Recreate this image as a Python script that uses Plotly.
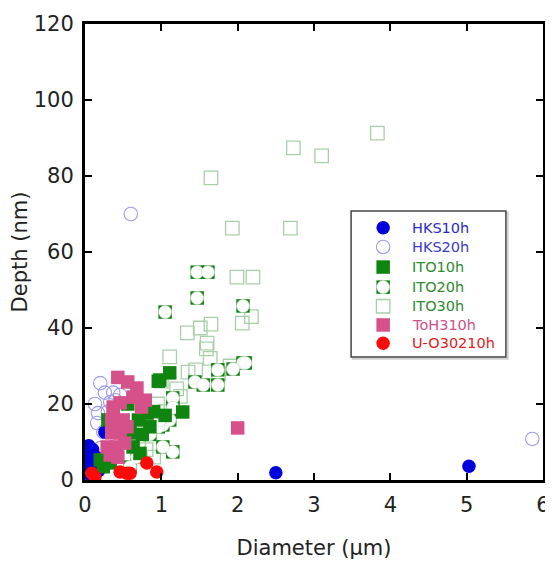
import plotly.graph_objects as go

# ---------------- data ----------------
hks10_x = [2.5, 5.03, 0.05, 0.1, 0.04, 0.12, 0.03, 0.15, 0.08, 0.02, 0.18, 0.26]
hks10_y = [1.9, 3.6, 9.0, 8.0, 5.0, 4.0, 2.0, 6.0, 1.0, 7.0, 2.5, 12.6]

hks20_x = [0.6, 5.86, 0.2, 0.26, 0.37, 0.46, 0.17, 0.16, 0.24, 0.33, 0.13, 0.2, 0.3, 0.4]
hks20_y = [70.0, 10.8, 25.5, 23.0, 23.0, 22.4, 17.6, 15.0, 12.6, 20.5, 20.0, 8.4, 18.0, 21.0]

ito10_x = [1.11, 0.98, 1.28, 0.81, 0.85, 0.96, 0.7, 0.63, 0.72, 0.56, 0.2, 0.24, 0.33, 0.59, 0.3, 0.9, 0.75, 1.05]
ito10_y = [28.2, 26.3, 17.9, 17.6, 14.0, 26.0, 15.8, 8.7, 7.0, 20.0, 5.3, 3.5, 4.5, 12.4, 15.8, 18.0, 12.0, 17.0]

ito20_x = [1.47, 1.61, 1.47, 1.05, 2.07, 2.07, 1.74, 1.94, 2.1, 1.44, 1.55, 1.74, 1.15, 1.15,
           1.02, 1.11, 0.96, 1.15, 1.05, 0.68, 0.59, 0.98, 1.02, 0.85]
ito20_y = [54.7, 54.7, 47.9, 44.2, 45.8, 30.8, 29.0, 29.2, 30.8, 25.8, 25.0, 25.0, 21.6, 19.0,
           14.5, 15.8, 14.0, 7.4, 16.6, 6.0, 3.4, 15.8, 8.7, 12.0]

ito30_x = [3.83, 2.73, 3.1, 1.65, 1.93, 2.69, 1.99, 2.2, 1.34, 1.51, 1.65, 2.06, 2.18, 1.59,
           1.64, 1.11, 1.35, 1.0, 1.2, 1.45, 1.75, 0.95, 1.05, 0.7, 0.8, 1.25, 0.55, 0.9, 1.9, 1.6]
ito30_y = [91.3, 87.4, 85.3, 79.5, 66.3, 66.3, 53.4, 53.4, 38.7, 40.0, 41.0, 41.3, 43.0, 34.5,
           32.0, 32.4, 28.4, 26.0, 24.0, 29.0, 28.0, 20.0, 18.0, 10.0, 8.0, 22.0, 12.0, 6.0, 30.0, 36.0]

toh_x = [2.0, 0.43, 0.56, 0.68, 0.63, 0.79, 0.74, 0.37, 0.46, 0.35, 0.5, 0.35, 0.46, 0.29, 0.42,
         0.52, 0.43, 0.33, 0.55, 0.37]
toh_y = [13.7, 27.0, 25.8, 24.2, 21.8, 21.0, 19.2, 19.2, 20.3, 15.8, 15.8, 12.4, 12.4, 8.7, 8.7,
         9.7, 6.0, 6.6, 14.0, 17.6]

uo_x = [0.13, 0.46, 0.55, 0.59, 0.81, 0.94, 0.09]
uo_y = [0.8, 2.1, 1.8, 1.8, 4.5, 2.1, 1.8]

legend_names = ["HKS10h", "HKS20h", "ITO10h", "ITO20h", "ITO30h", "ToH310h", "U-O30210h"]
legend_text_colors = ["#2b2bc4", "#3a3ac8", "#2e8a2e", "#2e8a2e", "#2e8a2e", "#d0508a", "#e02020"]

# ---------------- styles ----------------
BLUE = "#0000dd"
LAV = "#9a9af0"
GREEN = "#0f850f"
LGREEN = "#a9cfa9"
PINK = "#d6508a"
RED = "#ff0a0a"
MS = 13.5
FONT = "DejaVu Sans"

fig = go.Figure()

def add(x, y, symbol, color, line_color=None, line_w=0, size=MS, xaxis="x", yaxis="y"):
    fig.add_trace(go.Scatter(
        x=x, y=y, mode="markers", showlegend=False, hoverinfo="skip",
        xaxis=xaxis, yaxis=yaxis,
        marker=dict(symbol=symbol, size=size, color=color,
                    line=dict(color=line_color or color, width=line_w))))

def draw_ito20(x, y, xaxis="x", yaxis="y"):
    add(x, y, "square", GREEN, xaxis=xaxis, yaxis=yaxis)
    add(x, y, "circle", "white", line_color="#c8d8c8", line_w=0.6, size=MS - 0.5, xaxis=xaxis, yaxis=yaxis)

add(ito30_x, ito30_y, "square-open", LGREEN, line_w=1.3)
draw_ito20(ito20_x, ito20_y)
add(hks20_x, hks20_y, "circle-open", LAV, line_w=1.1)
add(hks10_x, hks10_y, "circle", BLUE)
add(ito10_x, ito10_y, "square", GREEN)
add(toh_x, toh_y, "square", PINK)
add(uo_x, uo_y, "circle", RED)

# ---------------- custom legend (overlay axes 0..1) ----------------
lx = 0.651
rows = [0.553, 0.511, 0.467, 0.423, 0.381, 0.340, 0.300]
fig.add_shape(type="rect", xref="paper", yref="paper", x0=0.585, x1=0.923, y0=0.266, y1=0.586,
              line=dict(color="#d0d0d0", width=2), fillcolor="rgba(0,0,0,0)", layer="below")
fig.add_shape(type="rect", xref="paper", yref="paper", x0=0.581, x1=0.919, y0=0.270, y1=0.590,
              line=dict(color="#444444", width=1.5), fillcolor="white", layer="below")
add([lx], [rows[0]], "circle", BLUE, xaxis="x2", yaxis="y2")
add([lx], [rows[1]], "circle-open", LAV, line_w=1.1, xaxis="x2", yaxis="y2")
add([lx], [rows[2]], "square", GREEN, xaxis="x2", yaxis="y2")
draw_ito20([lx], [rows[3]], xaxis="x2", yaxis="y2")
add([lx], [rows[4]], "square-open", LGREEN, line_w=1.3, xaxis="x2", yaxis="y2")
add([lx], [rows[5]], "square", PINK, xaxis="x2", yaxis="y2")
add([lx], [rows[6]], "circle", RED, xaxis="x2", yaxis="y2")
for name, col, ry in zip(legend_names, legend_text_colors, rows):
    fig.add_annotation(x=0.71, y=ry, xref="paper", yref="paper", text=name, showarrow=False,
                       xanchor="left", yanchor="middle",
                       font=dict(family=FONT, size=14.5, color=col))

axis_common = dict(showline=True, linecolor="black", linewidth=3, mirror="ticks",
                   ticks="inside", ticklen=7, tickwidth=2, tickcolor="black",
                   showgrid=False, zeroline=False, automargin=False,
                   tickfont=dict(family=FONT, size=21, color="#222222"))

fig.update_layout(
    width=545, height=555,
    margin=dict(l=77, r=10, t=16, b=83),
    paper_bgcolor="white", plot_bgcolor="white",
    xaxis=dict(range=[0, 6], dtick=1, ticklabelstandoff=4,
               title=dict(text="Diameter (μm)", standoff=25,
                          font=dict(family=FONT, size=21, color="#222222")), **axis_common),
    yaxis=dict(range=[0, 120], dtick=20, ticklabelstandoff=4,
               title=dict(text="Depth (nm)", standoff=2,
                          font=dict(family=FONT, size=21, color="#222222")), **axis_common),
    xaxis2=dict(range=[0, 1], overlaying="x", visible=False, fixedrange=True),
    yaxis2=dict(range=[0, 1], overlaying="y", visible=False, fixedrange=True),
)

fig.write_html("out.html")
